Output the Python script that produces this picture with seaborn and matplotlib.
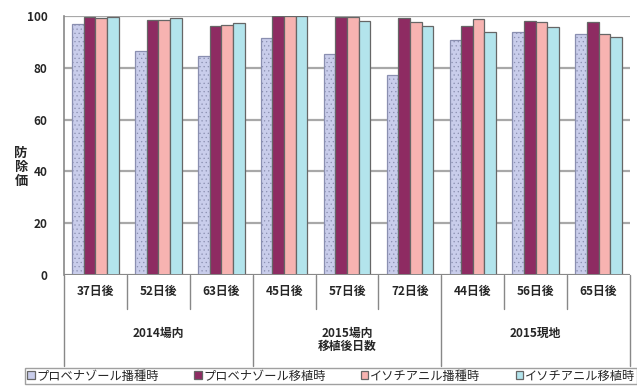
import numpy as np
import pandas as pd
import seaborn as sns
import matplotlib.pyplot as plt
from matplotlib.lines import Line2D

# data
days = ["37日後", "52日後", "63日後", "45日後", "57日後", "72日後", "44日後", "56日後", "65日後"]
groups = ["2014場内", "2015場内\n移植後日数", "2015現地"]
series = ["プロベナゾール播種時", "プロベナゾール移植時", "イソチアニル播種時", "イソチアニル移植時"]
probe_sow = [96.8, 86.5, 84.4, 91.3, 85.3, 77.3, 90.6, 93.8, 93.0]
probe_trans = [99.7, 98.5, 96.0, 100.0, 99.6, 99.0, 96.0, 98.0, 97.8]
iso_sow = [99.0, 98.5, 96.5, 100.0, 99.6, 97.8, 98.7, 97.8, 93.0]
iso_trans = [99.4, 99.0, 97.4, 100.0, 98.0, 96.0, 93.8, 95.8, 92.0]
colors = ["#C9CDEB", "#8E2B62", "#F7B3B1", "#B3E4EC"]

df = pd.DataFrame({
    "day": days * 4,
    "series": np.repeat(series, len(days)),
    "value": probe_sow + probe_trans + iso_sow + iso_trans,
})

sns.set_style("white")
plt.rcParams["font.family"] = ["Noto Sans CJK JP", "DejaVu Sans"]
plt.rcParams["hatch.linewidth"] = 0.4

fig = plt.figure(figsize=(6.37, 3.88), dpi=100)
ax = fig.add_axes([0.1005, 0.291, 0.8885, 0.668])

sns.barplot(data=df, x="day", y="value", hue="series", order=days, hue_order=series,
            palette=colors, width=0.74, edgecolor="#666666", linewidth=0.9,
            saturation=1, legend=True, ax=ax, zorder=3)

# dotted fill on the first series
for bar in ax.containers[0]:
    bar.set_hatch("....")
    bar.set_edgecolor("#8a8fb0")

ax.set_ylim(0, 100)
ax.set_xlim(-0.5, len(days) - 0.5)
ax.set_yticks([0, 20, 40, 60, 80, 100])
ax.yaxis.grid(True, color="#a8a8a8", linewidth=1.6, zorder=0)
for s in ["top", "right", "bottom"]:
    ax.spines[s].set_visible(False)
ax.spines["left"].set_color("#888888")
ax.spines["left"].set_linewidth(1.2)
ax.tick_params(axis="y", length=0, pad=12, labelsize=8.5)
ax.tick_params(axis="x", length=0, pad=7, labelsize=8.5)
for t in ax.get_yticklabels() + ax.get_xticklabels():
    t.set_fontweight("bold")
ax.set_xlabel("")
ax.set_ylabel("")
ax.axhline(0, color="#888888", linewidth=1.4, zorder=4)

fig.text(0.033, 0.57, "防\n除\n価", ha="center", va="center", fontsize=9.5,
         fontweight="bold", linespacing=1.0)

# two-level category axis separators
trans = ax.get_xaxis_transform()
for i in range(len(days) + 1):
    x = i - 0.5
    long = i % 3 == 0
    ax.add_line(Line2D([x, x], [0, -0.35 if long else -0.13], transform=trans,
                       color="#888888", linewidth=1.0, clip_on=False))
for g, name in enumerate(groups):
    ax.text(g * 3 + 1, -0.2, name, transform=trans, ha="center", va="top",
            fontsize=8.5, fontweight="bold", linespacing=1.0)

handles, labels = ax.get_legend_handles_labels()
ax.get_legend().remove()
fig.legend(handles, labels, loc="upper left", bbox_to_anchor=(0.04, 0.052, 0.96, 0),
           mode="expand", ncol=4, fontsize=8.8, frameon=True, edgecolor="#888888",
           fancybox=False, handlelength=0.6, handleheight=0.6, handletextpad=0.15,
           columnspacing=0.4, borderpad=0.15, borderaxespad=0)

fig.savefig("out.png", dpi=100)
